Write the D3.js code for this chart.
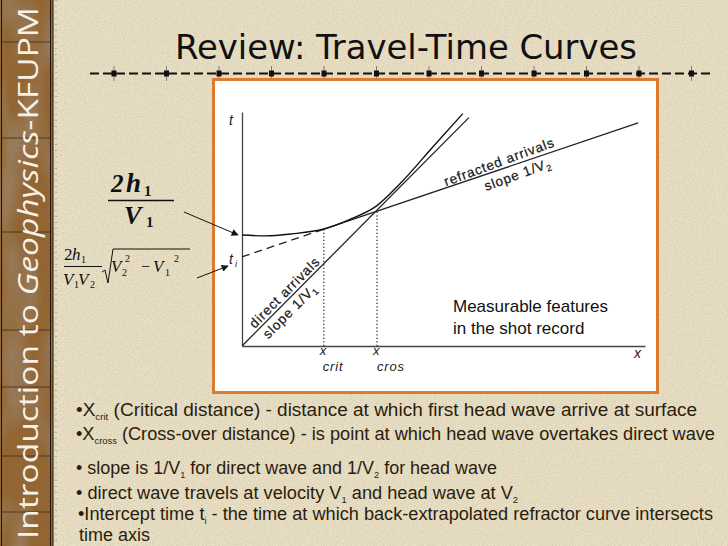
<!DOCTYPE html>
<html><head><meta charset="utf-8">
<script src="https://cdn.jsdelivr.net/npm/d3@7"></script>
<style>html,body{margin:0;padding:0;background:#e8dec4;} svg{display:block}</style>
</head><body><div id="chart"></div>
<script>
// ---------- data ----------
const slideTitle = "Review: Travel-Time Curves";
const bannerParts = [["Introduction to ", "normal"], ["Geophysics", "italic"], ["-KFUPM", "normal"]];
const xDomain = [0, 100];
const tDomain = [0, 58];
const directArrivals = [[0, 0], [56.3, 56.6]];
const reflectedArrivals = [[0, 27.5], [5.7, 27.3], [12.4, 27.8], [20.3, 29.0], [26.8, 31.4], [33.5, 34.8], [39.2, 40.2], [47.4, 49.4], [54.8, 57.6]];
const refractedLine = [[0, 22.1], [98.3, 55.3]];
const xCrit = 20.3, xCros = 33.5, tIntercept = 22.1;
const noteLines = ["Measurable features", "in the shot record"];
const bulletLines = [
  [["•X", 0], ["crit", 1], [" (Critical distance) - distance at which first head wave arrive at surface", 0]],
  [["•X", 0], ["cross", 1], [" (Cross-over distance) - is point at which head wave overtakes direct wave", 0]],
  [["• slope is 1/V", 0], ["1", 1], [" for direct wave and 1/V", 0], ["2", 1], [" for head wave", 0]],
  [["• direct wave travels at velocity V", 0], ["1", 1], [" and head wave at V", 0], ["2", 1]],
  [["•Intercept time t", 0], ["i", 1], [" - the time at which back-extrapolated refractor curve intersects", 0]],
  [["time axis", 0]]
];
// layout for bullets
const bulletX = [76, 76, 76, 76, 78, 79];
const bulletY = [416, 440, 474, 499, 520, 541];
const bulletLen = [621, 639, 421, 442, 635, 71];

// ---------- drawing ----------
const W = 728, H = 546;
const svg = d3.select("#chart").append("svg").attr("width", W).attr("height", H);
const defs = svg.append("defs");

const grain = defs.append("filter").attr("id", "grain").attr("x", 0).attr("y", 0).attr("width", 1).attr("height", 1);
grain.append("feTurbulence").attr("type", "fractalNoise").attr("baseFrequency", "0.9").attr("numOctaves", 2).attr("seed", 4);
grain.append("feColorMatrix").attr("type", "matrix")
  .attr("values", "0 0 0 0 0.42  0 0 0 0 0.34  0 0 0 0 0.2  0.6 0 0 0 -0.22");

const patch = defs.append("filter").attr("id", "patch").attr("x", 0).attr("y", 0).attr("width", 1).attr("height", 1);
patch.append("feTurbulence").attr("type", "fractalNoise").attr("baseFrequency", "0.035 0.012").attr("numOctaves", 2).attr("seed", 7);
patch.append("feColorMatrix").attr("type", "matrix")
  .attr("values", "0 0 0 0 0.33  0 0 0 0 0.21  0 0 0 0 0.12  3.2 0 0 0 -1.35");

const bgrain = defs.append("filter").attr("id", "bgrain").attr("x", 0).attr("y", 0).attr("width", 1).attr("height", 1);
bgrain.append("feTurbulence").attr("type", "fractalNoise").attr("baseFrequency", "1.1").attr("numOctaves", 2).attr("seed", 2);
bgrain.append("feColorMatrix").attr("type", "matrix")
  .attr("values", "0 0 0 0 0.25  0 0 0 0 0.15  0 0 0 0 0.05  1.1 0 0 0 -0.35");

defs.append("marker").attr("id", "arrow").attr("viewBox", "0 0 10 10").attr("refX", 9).attr("refY", 5)
  .attr("markerWidth", 9).attr("markerHeight", 7).attr("markerUnits", "userSpaceOnUse").attr("orient", "auto")
  .append("path").attr("d", "M0,0 L10,5 L0,10 z").attr("fill", "#111");

// background
svg.append("rect").attr("width", W).attr("height", H).attr("fill", "#e9e0c6");
svg.append("rect").attr("width", W).attr("height", H).attr("filter", "url(#grain)");

// left banner
svg.append("rect").attr("x", 0).attr("y", 0).attr("width", 53).attr("height", H).attr("fill", "#946430");
svg.append("rect").attr("x", 0).attr("y", 0).attr("width", 53).attr("height", H).attr("filter", "url(#patch)");
svg.append("rect").attr("x", 0).attr("y", 0).attr("width", 53).attr("height", H).attr("filter", "url(#bgrain)");
[[1.5], [50.5], [53]].forEach(d => svg.append("line").attr("x1", d[0]).attr("x2", d[0]).attr("y1", 0).attr("y2", H)
  .attr("stroke", "#1a1208").attr("stroke-width", 1));
[42, 138, 232, 330, 387, 456, 512].forEach(yy => svg.append("line").attr("x1", 2).attr("x2", 50).attr("y1", yy).attr("y2", yy)
  .attr("stroke", "#2a1a0a").attr("stroke-width", 0.8).attr("opacity", 0.8));
svg.append("line").attr("x1", 56).attr("x2", 56).attr("y1", 0).attr("y2", H).attr("stroke", "#6b5a40")
  .attr("stroke-width", 1).attr("stroke-dasharray", "1,5").attr("opacity", 0.7);
const bt = svg.append("text").attr("transform", "translate(38,539) rotate(-90)")
  .attr("font-family", "'Open Sans', 'DejaVu Sans', sans-serif").attr("font-size", 27).attr("fill", "#f6f1e8")
  .attr("textLength", 532).attr("lengthAdjust", "spacingAndGlyphs");
bannerParts.forEach(p => bt.append("tspan").attr("font-style", p[1]).text(p[0]));

// title
svg.append("text").attr("x", 175).attr("y", 59).attr("font-family", "'DejaVu Sans', sans-serif")
  .attr("font-size", 33).attr("fill", "#111").attr("textLength", 462).attr("lengthAdjust", "spacingAndGlyphs")
  .text(slideTitle);

// dashed separator
svg.append("line").attr("x1", 90).attr("x2", 711).attr("y1", 73.5).attr("y2", 73.5)
  .attr("stroke", "#111").attr("stroke-width", 2).attr("stroke-dasharray", "9,4");
d3.range(12).forEach(k => {
  const cx = 114 + k * 52.5;
  svg.append("line").attr("x1", cx).attr("x2", cx).attr("y1", 66).attr("y2", 81).attr("stroke", "#555").attr("stroke-width", 0.7);
  svg.append("rect").attr("x", cx - 2.5).attr("y", 70.5).attr("width", 5).attr("height", 6).attr("fill", "#111");
});

// chart box
svg.append("rect").attr("x", 213.5).attr("y", 79.5).attr("width", 444).attr("height", 313)
  .attr("fill", "#ffffff").attr("stroke", "#dc7b30").attr("stroke-width", 3);

// scales
const x = d3.scaleLinear().domain(xDomain).range([242, 645]);
const y = d3.scaleLinear().domain(tDomain).range([346, 112]);
const g = svg.append("g");

// axes
const xa = g.append("g").attr("transform", `translate(0,${y(0)})`).call(d3.axisBottom(x).tickValues([]).tickSizeOuter(0));
const ya = g.append("g").attr("transform", `translate(${x(0)},0)`).call(d3.axisLeft(y).tickValues([]).tickSizeOuter(0));
[xa, ya].forEach(a => a.select(".domain").attr("stroke", "#444").attr("stroke-width", 1.3));

const line = d3.line().x(d => x(d[0])).y(d => y(d[1]));
const tOnRefr = xv => refractedLine[0][1] + (refractedLine[1][1] - refractedLine[0][1]) * (xv - refractedLine[0][0]) / (refractedLine[1][0] - refractedLine[0][0]);
const tCrit = tOnRefr(xCrit), tCros = tOnRefr(xCros);

// dotted verticals
[[xCrit, tCrit], [xCros, tCros]].forEach(d => g.append("path").attr("d", line([[d[0], 0], d]))
  .attr("stroke", "#333").attr("stroke-width", 1.3).attr("stroke-dasharray", "1.3,2.2").attr("fill", "none"));

// refracted: dashed back-extrapolation and solid part
g.append("path").attr("d", line([[refractedLine[0][0], tIntercept], [xCrit, tCrit]]))
  .attr("stroke", "#222").attr("stroke-width", 1.3).attr("stroke-dasharray", "8,5").attr("fill", "none");
g.append("path").attr("d", line([[xCrit, tCrit], refractedLine[1]]))
  .attr("stroke", "#222").attr("stroke-width", 1.3).attr("fill", "none");
// direct
g.append("path").attr("d", line(directArrivals)).attr("stroke", "#222").attr("stroke-width", 1.3).attr("fill", "none");
// reflected hyperbola
g.append("path").attr("d", d3.line().x(d => x(d[0])).y(d => y(d[1])).curve(d3.curveMonotoneX)(reflectedArrivals))
  .attr("stroke", "#111").attr("stroke-width", 1.4).attr("fill", "none");

// labels along lines
function along(seg, xv, off, parts, extraRot) {
  const ang = Math.atan2(y(seg[1][1]) - y(seg[0][1]), x(seg[1][0]) - x(seg[0][0])) * 180 / Math.PI + (extraRot || 0);
  const tv = seg[0][1] + (seg[1][1] - seg[0][1]) * (xv - seg[0][0]) / (seg[1][0] - seg[0][0]);
  const t = g.append("text").attr("transform", `translate(${x(xv)},${y(tv)}) rotate(${ang})`)
    .attr("y", off).attr("text-anchor", "middle").attr("font-family", "'Liberation Sans', Arial, sans-serif")
    .attr("font-size", 13.5).attr("letter-spacing", 0.9).attr("fill", "#1a1a1a")
    .attr("stroke", "#1a1a1a").attr("stroke-width", 0.25);
  parts.forEach(p => {
    const s = t.append("tspan").text(p[0]);
    if (p[1] === 1) s.attr("font-size", 9).attr("dy", 3);
  });
}
along(directArrivals, 11.9, -3, [["direct arrivals", 0]]);
along(directArrivals, 10.2, 14, [["slope 1/V", 0], ["1", 1]]);
along(refractedLine, 64.5, -3, [["refracted arrivals", 0]], -1.5);
along(refractedLine, 67.5, 15, [["slope  1/V", 0], ["2", 1]], -1.5);

// axis labels
const lab = (xx, yy, s, size) => g.append("text").attr("x", xx).attr("y", yy).attr("font-family", "'Liberation Sans', Arial, sans-serif")
  .attr("font-style", "italic").attr("font-size", size).attr("fill", "#222").text(s);
lab(x(0) - 13, y(tDomain[1]) + 13, "t", 14);
lab(x(xDomain[1]) - 11, y(0) + 12, "x", 14);
lab(x(0) - 13, y(tIntercept) + 7, "t", 14);
lab(x(0) - 7, y(tIntercept) + 10, "i", 9);
lab(x(xCrit) - 4, y(0) + 9, "x", 13);
lab(x(xCrit) - 1, y(0) + 25, "crit", 13).attr("letter-spacing", 0.8);
lab(x(xCros) - 4, y(0) + 9, "x", 13);
lab(x(xCros), y(0) + 25, "cros", 13).attr("letter-spacing", 0.8);

// note
noteLines.forEach((s, i) => g.append("text").attr("x", 453).attr("y", 312 + i * 22)
  .attr("font-family", "'Liberation Sans', Arial, sans-serif").attr("font-size", 17).attr("fill", "#111").text(s));

// formulas
const serif = "'Liberation Serif', 'Times New Roman', serif";
const ft = (xx, yy, s, size, style, weight) => svg.append("text").attr("x", xx).attr("y", yy).attr("font-family", serif)
  .attr("font-size", size).attr("font-style", style || "normal").attr("font-weight", weight || "normal").attr("fill", "#111").text(s);
ft(111, 192, "2", 25, "italic", "bold");
ft(126, 192, "h", 27, "italic", "bold");
ft(144, 196, "1", 15, "normal", "bold");
svg.append("line").attr("x1", 108).attr("x2", 174).attr("y1", 200.5).attr("y2", 200.5).attr("stroke", "#111").attr("stroke-width", 1.6);
ft(124, 224, "V", 26, "italic", "bold");
ft(146, 227, "1", 15, "normal", "bold");
svg.append("line").attr("x1", 184).attr("y1", 212).attr("x2", 238).attr("y2", 235).attr("stroke", "#111").attr("stroke-width", 1).attr("marker-end", "url(#arrow)");

ft(64, 260, "2", 17);
ft(72, 260, "h", 17, "italic");
ft(81, 263, "1", 10);
svg.append("line").attr("x1", 64).attr("x2", 102).attr("y1", 266.5).attr("y2", 266.5).attr("stroke", "#111").attr("stroke-width", 1);
ft(63, 285, "V", 17, "italic");
ft(74, 288, "1", 10);
ft(78, 285, "V", 17, "italic");
ft(90, 288, "2", 10);
svg.append("path").attr("d", "M102,272 L105,270 L108,283 L113,249 L190,249").attr("stroke", "#111").attr("stroke-width", 1).attr("fill", "none");
ft(111, 272, "V", 17, "italic");
ft(122, 276, "2", 10);
ft(125, 262, "2", 10);
ft(141, 272, "\u2212", 16);
ft(153, 272, "V", 17, "italic");
ft(165, 276, "1", 10);
ft(174, 262, "2", 10);
svg.append("line").attr("x1", 197).attr("y1", 278).attr("x2", 228).attr("y2", 266).attr("stroke", "#111").attr("stroke-width", 1).attr("marker-end", "url(#arrow)");

// bullets
bulletLines.forEach((parts, i) => {
  const t = svg.append("text").attr("x", bulletX[i]).attr("y", bulletY[i])
    .attr("font-family", "'Liberation Sans Narrow', 'Arial Narrow', 'Liberation Sans', Arial, sans-serif")
    .attr("font-size", 17.5).attr("fill", "#2b1d0d")
    .attr("textLength", bulletLen[i]).attr("lengthAdjust", "spacingAndGlyphs");
  let sub = false;
  parts.forEach(p => {
    const s = t.append("tspan").text(p[0]);
    if (p[1] === 1 && !sub) { s.attr("font-size", 9).attr("dy", 4); sub = true; }
    else if (p[1] === 0 && sub) { s.attr("dy", -4); sub = false; }
  });
});
</script></body></html>
